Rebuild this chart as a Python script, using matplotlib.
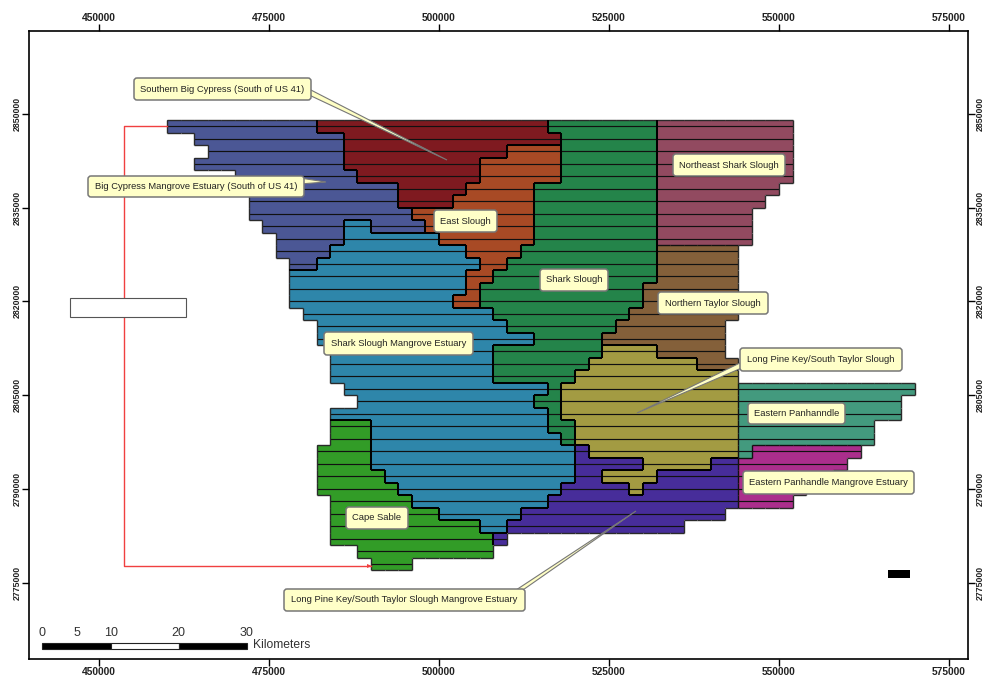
import numpy as np
import matplotlib
matplotlib.use('Agg')
import matplotlib.pyplot as plt
from matplotlib.collections import LineCollection
from matplotlib.colors import ListedColormap
from matplotlib.patches import FancyBboxPatch, Polygon, Rectangle
from matplotlib.transforms import Affine2D

plt.rcParams['font.family'] = ['Liberation Sans', 'DejaVu Sans']

# grid of the model, 2 km cells
first_easting = 460000
first_northing = 2849000
cell_size = 2000
n_cols = 55
n_rows = 36

# each region is a list of (row, first column, last column)
big_cypress_mangrove = [(0, 0, 10), (1, 2, 12), (2, 3, 12), (3, 2, 12), (4, 5, 13), (5, 5, 16), (6, 6, 16),
                        (7, 6, 17), (8, 7, 12), (8, 15, 18), (9, 8, 12), (10, 8, 11), (11, 9, 10)]
southern_big_cypress = [(0, 11, 27), (1, 13, 28), (2, 13, 24), (3, 13, 22), (4, 14, 22), (5, 17, 21), (6, 17, 20)]
east_slough = [(2, 25, 28), (3, 23, 28), (4, 23, 28), (5, 22, 26), (6, 21, 26), (7, 18, 26), (8, 19, 26),
               (9, 20, 26), (10, 22, 25), (11, 23, 24), (12, 22, 23), (13, 22, 22), (14, 21, 22)]
shark_slough = [(0, 28, 35), (1, 29, 35), (2, 29, 35), (3, 29, 35), (4, 29, 35), (5, 27, 35), (6, 27, 35),
                (7, 27, 35), (8, 27, 35), (9, 27, 35), (10, 26, 35), (11, 25, 35), (12, 24, 35), (13, 23, 34),
                (14, 23, 34), (15, 24, 33), (16, 25, 32), (17, 27, 31), (18, 24, 31), (19, 24, 30), (20, 24, 29),
                (21, 28, 28), (22, 27, 28), (23, 28, 28), (24, 28, 29), (25, 29, 29)]
northeast_shark = [(0, 36, 45), (1, 36, 45), (2, 36, 45), (3, 36, 45), (4, 36, 45), (5, 36, 44), (6, 36, 43),
                   (7, 36, 42), (8, 36, 42), (9, 36, 42)]
northern_taylor = [(10, 36, 41), (11, 36, 41), (12, 36, 41), (13, 35, 41), (14, 35, 41), (15, 34, 41), (16, 33, 40),
                   (17, 32, 40), (18, 36, 40), (19, 39, 41)]
shark_mangrove = [(8, 13, 14), (9, 13, 19), (10, 12, 21), (11, 11, 22), (12, 9, 21), (13, 9, 21), (14, 9, 20),
                  (15, 10, 23), (16, 11, 24), (17, 11, 26), (18, 12, 23), (19, 12, 23), (20, 12, 23), (21, 13, 27),
                  (22, 14, 26), (23, 12, 27), (24, 15, 27), (25, 15, 28), (26, 15, 29), (27, 15, 29), (28, 16, 29),
                  (29, 17, 28), (30, 18, 27), (31, 20, 25), (32, 23, 24)]
long_pine = [(18, 32, 35), (19, 31, 38), (20, 30, 41), (21, 29, 41), (22, 29, 41), (23, 29, 41), (24, 30, 41),
             (25, 30, 41), (26, 31, 41), (27, 35, 39), (28, 32, 35), (29, 34, 34)]
long_pine_mangrove = [(26, 30, 30), (27, 30, 34), (27, 40, 41), (28, 30, 31), (28, 36, 41), (29, 29, 33), (29, 35, 41),
                      (30, 28, 41), (31, 26, 40), (32, 25, 37), (33, 24, 24)]
eastern_panhandle = [(21, 42, 54), (22, 42, 53), (23, 42, 53), (24, 42, 51), (25, 42, 51), (26, 42, 42)]
panhandle_mangrove = [(26, 43, 50), (27, 42, 49), (28, 42, 48), (29, 42, 46), (30, 42, 45)]
cape_sable = [(24, 12, 14), (25, 12, 14), (26, 11, 14), (27, 11, 14), (28, 11, 15), (29, 11, 16), (30, 12, 17),
              (31, 12, 19), (32, 12, 22), (33, 12, 23), (34, 14, 23), (35, 15, 17)]

regions = [big_cypress_mangrove, southern_big_cypress, east_slough, shark_slough, northeast_shark, northern_taylor,
           shark_mangrove, long_pine, long_pine_mangrove, eastern_panhandle, panhandle_mangrove, cape_sable]
region_colors = ['#4b5795', '#7f1a20', '#a84a25', '#24844a', '#924a60', '#84603a',
                 '#2e86aa', '#a39b42', '#472d9a', '#439a7e', '#ab2e8c', '#329c27']

# boundaries drawn thin: (northeast/taylor, panhandle/mangrove, panhandle/long pine, etc)
thin_pairs = [(4, 5), (9, 10), (7, 9), (7, 10), (8, 10)]

x_ticks = [450000, 475000, 500000, 525000, 550000, 575000]
y_ticks = [2775000, 2790000, 2805000, 2820000, 2835000, 2850000]

scale_values = [0, 5, 10, 20, 30]
scale_pixels = [42, 77, 111, 178.5, 247]

# text, box left, box top, box right, box bottom (pixels of the picture)
labels = [
    ('Southern Big Cypress (South of US 41)', 134, 78, 311, 100),
    ('Big Cypress Mangrove Estuary (South of US 41)', 88, 176, 304, 197),
    ('East Slough', 434, 210, 497, 232),
    ('Northeast Shark Slough', 673, 154, 785, 176),
    ('Shark Slough', 540, 269, 608, 291),
    ('Northern Taylor Slough', 658, 292, 768, 314),
    ('Shark Slough Mangrove Estuary', 324, 332, 473, 355),
    ('Long Pine Key/South Taylor Slough', 740, 348, 902, 371),
    ('Eastern Panhanndle', 748, 403, 845, 424),
    ('Eastern Panhandle Mangrove Estuary', 743, 471, 914, 494),
    ('Cape Sable', 346, 507, 408, 529),
    ('Long Pine Key/South Taylor Slough Mangrove Estuary', 284, 589, 525, 611),
]

# leaders: two points on the box, then the tip
leaders = [
    [(307, 88), (307, 94), (447, 160)],
    [(300, 178), (300, 184), (326, 182)],
    [(744, 361), (744, 367), (637, 413)],
    [(513, 592), (520, 592), (636, 511)],
]

# Se arma la figura
fig = plt.figure(figsize=(9.84, 6.77), dpi=100)
ax = fig.add_axes([29 / 984, 1 - 659 / 677, (968 - 29) / 984, (659 - 31) / 677])
ax.set_xlim(439706, 577794)
ax.set_ylim(2762758, 2863286)

# picture pixels, y going down
px = Affine2D().scale(1 / 984, -1 / 677).translate(0, 1) + fig.transFigure

# cell grid
grid = np.full((n_rows + 2, n_cols + 2), -1)
for k, region in enumerate(regions):
    for row, c0, c1 in region:
        grid[row + 1, c0 + 1:c1 + 2] = k

x_edges = first_easting + cell_size * np.arange(n_cols + 1)
y_edges = first_northing - cell_size * np.arange(n_rows + 1)
cells = np.ma.masked_less(grid[1:-1, 1:-1], 0)
ax.pcolormesh(x_edges, y_edges, cells, cmap=ListedColormap(region_colors), vmin=0, vmax=len(regions) - 1,
              shading='flat', antialiased=False, zorder=1)

# line through the middle of every row
mid_lines = []
for region in regions:
    for row, c0, c1 in region:
        y = first_northing - cell_size * (row + 0.5)
        mid_lines.append([(x_edges[c0], y), (x_edges[c1 + 1], y)])
ax.add_collection(LineCollection(mid_lines, colors='#111111', linewidths=0.85, zorder=2))

# region boundaries
outer, thin, thick = [], [], []
for i in range(n_rows + 1):
    for j in range(n_cols + 1):
        a = grid[i, j]
        right = grid[i, j + 1]
        below = grid[i + 1, j]
        for other, seg in ((right, [(x_edges[j], y_edges[i - 1] if i > 0 else y_edges[0] + cell_size),
                                    (x_edges[j], y_edges[i])]),
                           (below, [(x_edges[j - 1] if j > 0 else x_edges[0] - cell_size, y_edges[i]),
                                    (x_edges[j], y_edges[i])])):
            if a == other:
                continue
            if a < 0 or other < 0:
                outer.append(seg)
            elif (a, other) in thin_pairs or (other, a) in thin_pairs:
                thin.append(seg)
            else:
                thick.append(seg)
ax.add_collection(LineCollection(outer, colors='#2a2a2a', linewidths=1.0, zorder=3))
ax.add_collection(LineCollection(thin, colors='#111111', linewidths=1.0, zorder=3))
ax.add_collection(LineCollection(thick, colors='black', linewidths=1.45, zorder=4))

# ticks on the four sides
ax.set_xticks(x_ticks)
ax.set_yticks(y_ticks)
ax.set_xticklabels([str(v) for v in x_ticks], fontsize=7.4, fontweight='bold', color='#222222')
ax.set_yticklabels([str(v) for v in y_ticks], fontsize=6.3, fontweight='bold', color='#222222', rotation=90, va='center')
ax.tick_params(axis='x', top=True, labeltop=True, length=5, width=1.0, pad=0.5)
ax.tick_params(axis='y', right=True, labelright=True, length=5, width=1.0, pad=0.5)
for t in ax.yaxis.get_major_ticks():
    t.label2.set_rotation(90)
    t.label2.set_va('center')
for side in ax.spines.values():
    side.set_linewidth(1.2)

# inset frame line in red, with its small arrow head at the end
ax.plot([167, 124, 124, 371], [126, 126, 566, 566], color='#f04040', lw=1.0, transform=px, zorder=5, clip_on=False)
ax.add_patch(Polygon([(367, 564), (372, 566), (367, 568)], closed=True, fc='#f04040', ec='none', transform=px, zorder=5))
ax.add_patch(Rectangle((70, 298), 116, 19, fc='white', ec='#555555', lw=0.8, transform=px, zorder=5))
ax.add_patch(Rectangle((888, 570), 22, 8, fc='black', ec='none', transform=px, zorder=5))

# scale bar
for x0, x1, col in [(42, 111, 'black'), (111, 178.5, 'white'), (178.5, 247, 'black')]:
    ax.add_patch(Rectangle((x0, 643), x1 - x0, 6, fc=col, ec='#222222', lw=0.8, transform=px, zorder=5))
for value, xp in zip(scale_values, scale_pixels):
    ax.text(xp, 633, str(value), fontsize=9, color='#333333', ha='center', va='center', transform=px, zorder=5)
ax.text(253, 645, 'Kilometers', fontsize=8.7, color='#333333', ha='left', va='center', transform=px, zorder=5)

# labels with their leaders
for points in leaders:
    ax.add_patch(Polygon(points, closed=True, fc='#ffffc4', ec='#777777', lw=0.8, transform=px, zorder=6))
for text, left, top, right, bottom in labels:
    ax.add_patch(FancyBboxPatch((left + 3, top + 3), right - left - 6, bottom - top - 6,
                                boxstyle='round,pad=3,rounding_size=3', fc='#ffffc8', ec='#777777', lw=1.1,
                                transform=px, zorder=7))
    ax.text((left + right) / 2, (top + bottom) / 2, text, fontsize=6.75, color='#222222', ha='center', va='center',
            transform=px, zorder=8)

fig.savefig('out.png', dpi=100)
